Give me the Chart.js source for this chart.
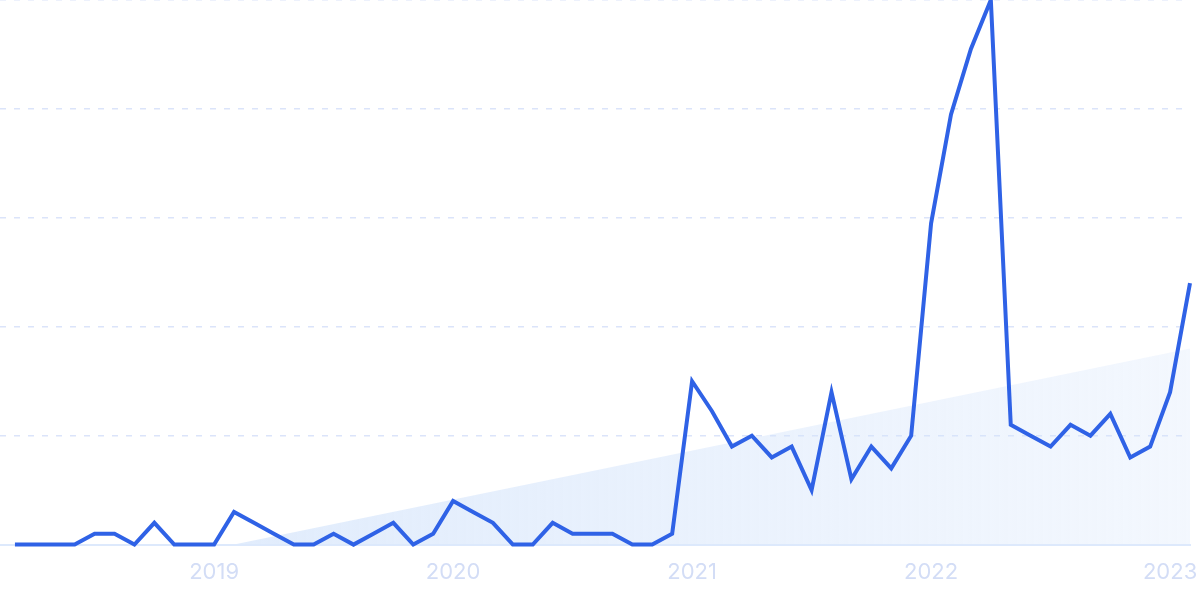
<!DOCTYPE html>
<html>
<head>
<meta charset="utf-8">
<script src="https://cdn.jsdelivr.net/npm/chart.js@4"></script>
<style>
    html, body { margin: 0; padding: 0; background: #fff; }
    #wrap { width: 1200px; height: 599px; position: relative; }
</style>
</head>
<body>
<div id="wrap"><canvas id="trendChart"></canvas></div>
<script>
// monthly points, Mar 2018 .. Feb 2023
const months = [
    '2018-03', '2018-04', '2018-05', '2018-06', '2018-07', '2018-08', '2018-09', '2018-10', '2018-11', '2018-12',
    '2019-01', '2019-02', '2019-03', '2019-04', '2019-05', '2019-06', '2019-07', '2019-08', '2019-09', '2019-10', '2019-11', '2019-12',
    '2020-01', '2020-02', '2020-03', '2020-04', '2020-05', '2020-06', '2020-07', '2020-08', '2020-09', '2020-10', '2020-11', '2020-12',
    '2021-01', '2021-02', '2021-03', '2021-04', '2021-05', '2021-06', '2021-07', '2021-08', '2021-09', '2021-10', '2021-11', '2021-12',
    '2022-01', '2022-02', '2022-03', '2022-04', '2022-05', '2022-06', '2022-07', '2022-08', '2022-09', '2022-10', '2022-11', '2022-12',
    '2023-01', '2023-02',
];

const searchVolume = [
    0, 0, 0, 0, 2, 2, 0, 4, 0, 0,
    0, 6, 4, 2, 0, 0, 2, 0, 2, 4, 0, 2,
    8, 6, 4, 0, 0, 4, 2, 2, 2, 0, 0, 2,
    30, 24.5, 18, 20, 16, 18, 10, 28, 12, 18, 14, 20,
    59, 79, 91, 100, 22, 20, 18, 22, 20, 24, 16, 18,
    28, 48,
];

// straight trend wedge: start and end month with value
const trendMonths = ['2019-02', '2023-02'];
const trendValues = [0, 36];

const yTicks = [0, 20, 40, 60, 80, 100];

const canvas = document.getElementById('trendChart');
const ctx = canvas.getContext('2d');

const idx = (m) => months.indexOf(m);

const trendFill = (context) => {
    const area = context.chart.chartArea;
    if (!area) {
        return 'rgba(219, 234, 254, 0.6)';
    }
    const g = context.chart.ctx.createLinearGradient(area.left + 230, 0, area.right, 0);
    g.addColorStop(0, 'rgba(212, 228, 251, 0.7)');
    g.addColorStop(1, 'rgba(212, 228, 251, 0.28)');
    return g;
};

new Chart(ctx, {
    type: 'line',
    data: {
        datasets: [
            {
                label: 'Searches',
                data: searchVolume.map((v, i) => ({ x: i, y: v })),
                borderColor: '#2f62e6',
                borderWidth: 4,
                pointRadius: 0,
                tension: 0,
                fill: false,
                clip: false,
                order: 0,
            },
            {
                label: 'Trend',
                data: trendMonths.map((m, i) => ({ x: idx(m), y: trendValues[i] })),
                borderWidth: 0,
                borderColor: 'rgba(0,0,0,0)',
                backgroundColor: trendFill,
                pointRadius: 0,
                fill: 'origin',
                order: 1,
            },
        ],
    },
    options: {
        responsive: true,
        maintainAspectRatio: false,
        animation: false,
        layout: {
            padding: { top: 0, right: 10, bottom: 0, left: 0 },
        },
        plugins: {
            legend: { display: false },
            tooltip: { enabled: false },
        },
        scales: {
            x: {
                type: 'linear',
                min: -0.75,
                max: months.length - 1,
                afterBuildTicks(scale) {
                    scale.ticks = months
                        .map((m, i) => ({ m, i }))
                        .filter((t) => t.m.endsWith('-01'))
                        .map((t) => ({ value: t.i }));
                },
                afterFit(scale) {
                    // let the last label hang over the plot edge
                    scale.paddingRight = 0;
                    scale.height -= 2;
                },
                grid: { display: false, drawTicks: false },
                border: { display: true, color: '#dde9fc', width: 2 },
                ticks: {
                    autoSkip: false,
                    maxRotation: 0,
                    padding: 15,
                    color: '#d3ddf6',
                    font: { family: 'Inter', size: 22 },
                    callback(value) {
                        const m = months[value];
                        return m ? m.slice(0, 4) : '';
                    },
                },
            },
            y: {
                min: 0,
                max: 100,
                afterBuildTicks(scale) {
                    scale.ticks = yTicks.map((v) => ({ value: v }));
                },
                ticks: { display: false },
                border: { display: false, dash: [6, 8] },
                grid: {
                    drawTicks: false,
                    lineWidth: 1.5,
                    color: (c) => (c.tick && c.tick.value === 0 ? 'rgba(0,0,0,0)' : '#dbe4fa'),
                },
            },
        },
    },
});
</script>
</body>
</html>
